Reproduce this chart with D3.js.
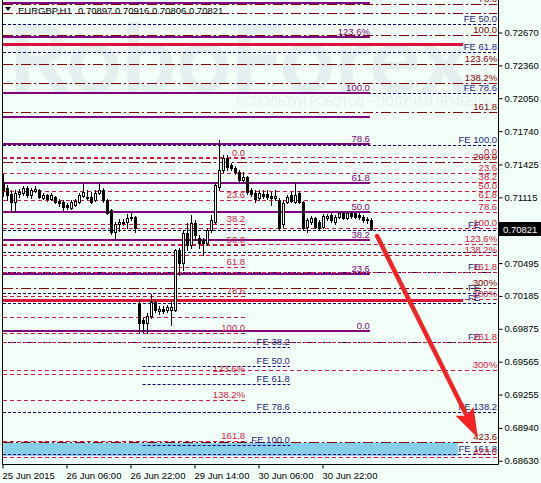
<!DOCTYPE html>
<html><head><meta charset="utf-8">
<script src="https://cdn.jsdelivr.net/npm/d3@7"></script>
<style>
html,body{margin:0;padding:0;background:#F2FFF8;}
svg{display:block;font-family:"Liberation Sans",Arial,sans-serif;}
</style></head><body>
<svg id="chart" width="541" height="483"></svg>
<script>
// ---------------- DATA ----------------
const titleSymbol = "EURGBP,H1";
const titleQuotes = "0.70897 0.70916 0.70806 0.70821";
const watermarkText = "RoboForex";
const watermarkSub = "ИСПОЛЬЗУЙ РОБОТОВ – ПОЛУЧАЙ ПРИБЫЛЬ";

const candleOpen = [.71260,.71203,.71147,.71071,.71147,.71156,.71203,.71137,.71175,.71184,
.71109,.71137,.71099,.71118,.71081,.71071,.71043,.71014,.71043,.71071,
.71128,.71118,.71118,.71090,.71156,.71184,.71090,.70996,.70788,.70863,
.70882,.70882,.70930,.70930,.70118,.69957,.69929,.69995,.70127,.70042,
.70061,.70052,.70052,.70052,.70618,.70495,.70778,.70665,.70873,.70731,
.70712,.70684,.70807,.70882,.71213,.71373,.71486,.71420,.71392,.71354,
.71279,.71307,.71184,.71156,.71109,.71147,.71147,.71128,.71109,.71090,
.70863,.71071,.71137,.71071,.71156,.71071,.70835,.70882,.70920,.70882,
.70835,.70920,.70948,.70882,.70930,.70967,.70920,.70967,.70967,.70948,
.70930,.70911,.70897];
const candleHigh = [.71335,.71232,.71184,.71184,.71194,.71222,.71222,.71203,.71222,.71194,
.71156,.71147,.71156,.71128,.71099,.71090,.71062,.71090,.71099,.71156,
.71250,.71184,.71166,.71184,.71250,.71203,.71099,.71005,.70882,.70911,
.70911,.70958,.70967,.70939,.70146,.69976,.70024,.70203,.70146,.70090,
.70090,.70099,.70146,.70628,.70637,.70807,.70873,.70948,.70901,.70759,
.70731,.70826,.70948,.71250,.71656,.71515,.71515,.71439,.71411,.71373,
.71354,.71316,.71203,.71184,.71184,.71184,.71184,.71166,.71184,.71109,
.71090,.71137,.71166,.71260,.71175,.71081,.70920,.70939,.70930,.70901,
.70958,.70958,.70967,.70948,.70977,.70977,.70977,.70977,.70977,.70967,
.70948,.70930,.70916];
const candleLow = [.71128,.71090,.70996,.70977,.71118,.71137,.71118,.71109,.71166,.71109,
.71099,.71081,.71090,.71062,.71033,.70996,.71005,.71005,.71033,.71062,
.71118,.71099,.71062,.71081,.71147,.71071,.70958,.70769,.70731,.70797,
.70854,.70826,.70901,.70788,.69844,.69844,.69835,.69976,.70033,.70014,
.70024,.70033,.69910,.70042,.70382,.70429,.70618,.70637,.70712,.70637,
.70571,.70665,.70788,.70873,.71184,.71354,.71373,.71373,.71335,.71260,
.71260,.71147,.71128,.71071,.71090,.71109,.71099,.71043,.71090,.70807,
.70835,.71062,.71071,.71062,.71062,.70807,.70788,.70863,.70826,.70807,
.70826,.70901,.70882,.70863,.70920,.70911,.70911,.70920,.70920,.70911,
.70882,.70873,.70806];
const candleClose = [.71184,.71137,.71071,.71156,.71166,.71203,.71137,.71184,.71194,.71118,
.71137,.71099,.71137,.71071,.71062,.71024,.71024,.71071,.71081,.71137,
.71166,.71109,.71071,.71156,.71184,.71090,.70967,.70788,.70863,.70882,
.70873,.70920,.70920,.70826,.69929,.69929,.69995,.70127,.70052,.70061,
.70042,.70080,.70080,.70618,.70495,.70778,.70665,.70873,.70759,.70684,
.70684,.70807,.70901,.71232,.71373,.71486,.71401,.71392,.71354,.71279,
.71307,.71166,.71147,.71099,.71156,.71128,.71118,.71109,.71128,.70826,
.71062,.71118,.71081,.71137,.71071,.70826,.70901,.70920,.70835,.70826,
.70939,.70939,.70901,.70930,.70967,.70920,.70967,.70939,.70930,.70930,
.70901,.70897,.70821];

const priceTicks = [0.72670,0.72360,0.72050,0.71740,0.71425,0.71115,0.70495,0.70185,0.69875,0.69565,0.69255,0.68940,0.68630];
const currentPrice = 0.70821;
const timeTickBars = [0,16,32,48,64,80];
const timeTickLabels = ["25 Jun 2015","26 Jun 06:00","26 Jun 22:00","29 Jun 14:00","30 Jun 06:00","30 Jun 22:00"];

// Fibonacci / object levels (prices) with labels; spans in bar index units
const purpleLevels = [0.72948,0.72628,0.72099,0.71873,0.71618,0.71250,0.70977,0.70712,0.70392,0.69854];
const purpleLabels = ["","123.6%","100.0","","78.6","61.8","50.0","38.2","23.6","0.0"];
const purpleSpan = [0, 91.6];

const crimsonRightLevels = [0.71496,0.71345,0.71260,0.71175,0.71090,0.70977,0.70826,0.70675,0.70571,0.70411,0.70156,0.69751,0.69486,0.68666];
const crimsonRightLabels = ["0.0","23.6","38.2","50.0","61.8","78.6","100.0","123.6%","138.2%","161.8","200%","261.8","300%","423.6"];
const crimsonRightSpan = [0, 123.4];

const crimsonLeftLevels = [0.71486,0.71090,0.70863,0.70665,0.70458,0.70184,0.69986,0.69835,0.69449,0.69203,0.68817];
const crimsonLeftLabels = ["0.0","23.6","38.2","50.0","61.8","78.6","","100.0","123.6%","138.2%","161.8"];
const crimsonLeftSpan = [0, 60.4];

const darkRedLevels = [0.72939,0.72854,0.72646,0.72373,0.72194,0.71920,0.71449,0.70260,0.68807];
const darkRedLabels = ["78.6","","100.0","123.6%","138.2%","161.8","200.0","300%","423.6"];
const darkRedSpan = [0, 123.4];

const navyRightLevels = [0.72750,0.72486,0.72099,0.71609,0.70807,0.70600,0.70411,0.70212,0.70118,0.69751,0.69090,0.68694];
const navyRightLabels = ["FE 50.0","FE 61.8","FE 78.6","FE 100.0","FE","","FE","FE","FE","FE","FE 138.2","FE 161.8"];
const navyRightSpan = [0, 123.4];

const navyMidLevels = [0.69703,0.69524,0.69354,0.69090,0.68779];
const navyMidLabels = ["FE 38.2","FE 50.0","FE 61.8","FE 78.6","FE 100.0"];
const navyMidSpan = [34.9, 71.6];

const supportLevels = [0.72562, 0.70146];
const supportSpan = [0, 114.9];

const targetZone = [0.68798, 0.68675];
const targetZoneSpan = [0, 113.6];

const arrowFrom = [93.4, 0.70750];
const arrowTo = [118.6, 0.68845];

// ---------------- DRAW ----------------
const W = 541, H = 483;
const plotRight = 498.5, plotBottom = 464.5;
const svg = d3.select("#chart");
const x = d3.scaleLinear().domain([0, 123.75]).range([3.5, plotRight]);
const y = d3.scaleLinear().domain([0.72670, 0.68630]).range([32.5, 460.8]);
const fs = 9.5, fsAxis = 9.5;

svg.append("rect").attr("width", W).attr("height", H).attr("fill", "#F2FFF8");

svg.append("defs").append("clipPath").attr("id","plotclip")
  .append("rect").attr("x",0).attr("y",0).attr("width",plotRight).attr("height",plotBottom);

const plot = svg.append("g").attr("clip-path","url(#plotclip)");

// watermark
plot.append("text").text(watermarkText)
  .attr("x", 8).attr("y", 92)
  .attr("font-family","Lato, 'Open Sans', sans-serif").attr("font-weight","bold")
  .attr("font-size", 94).attr("textLength", 462).attr("lengthAdjust","spacingAndGlyphs")
  .attr("fill","#E4EFEF");
plot.append("text").text(watermarkSub)
  .attr("x", 236).attr("y", 106)
  .attr("font-family","Lato, 'Open Sans', sans-serif")
  .attr("font-size", 12.5).attr("textLength", 256).attr("lengthAdjust","spacingAndGlyphs")
  .attr("fill","#E4EFEF");

// target zone
plot.append("rect")
  .attr("x", x(targetZoneSpan[0])).attr("y", y(targetZone[0]))
  .attr("width", x(targetZoneSpan[1]) - x(targetZoneSpan[0]))
  .attr("height", y(targetZone[1]) - y(targetZone[0]))
  .attr("fill", "#87CEEB");

const crisp = v => Math.round(v) + 0.5;

function drawLines(levels, span, color, width, dash) {
  plot.append("g").selectAll("line").data(levels).join("line")
    .attr("x1", x(span[0]) - 0.5).attr("x2", x(span[1]))
    .attr("y1", d => width % 2 ? crisp(y(d)) : Math.round(y(d)))
    .attr("y2", d => width % 2 ? crisp(y(d)) : Math.round(y(d)))
    .attr("stroke", color).attr("stroke-width", width)
    .attr("stroke-dasharray", dash || null);
}
function drawLabels(levels, labels, span, color) {
  const g = plot.append("g");
  levels.forEach((lv, i) => {
    const t = labels[i];
    if (!t) return;
    const short = (t === "FE");
    g.append("text").text(t)
      .attr("x", x(span[1]) - (short ? 17 : 0))
      .attr("y", Math.round(y(lv)) - 2)
      .attr("text-anchor", "end")
      .attr("font-size", fs).attr("fill", color);
  });
}

const cNavy = "#000080", cNavyTxt = "#24188A";
const cCrimson = "#DC143C", cDark = "#8B0000", cPurple = "#800080";

drawLines(navyRightLevels, navyRightSpan, cNavy, 1, "3,2");
drawLines(navyMidLevels, navyMidSpan, cNavy, 1, "3,2");
drawLines(darkRedLevels, darkRedSpan, cDark, 1, "10,3,2,3");
drawLines(crimsonLeftLevels, crimsonLeftSpan, cCrimson, 1, "4,3");
drawLines(crimsonRightLevels, crimsonRightSpan, cCrimson, 1, "4,3");
drawLines(purpleLevels, purpleSpan, cPurple, 2, null);
drawLines(supportLevels, supportSpan, cCrimson, 3, null);

drawLabels(navyRightLevels, navyRightLabels, navyRightSpan, cNavyTxt);
drawLabels(navyMidLevels, navyMidLabels, navyMidSpan, cNavyTxt);
drawLabels(darkRedLevels, darkRedLabels, darkRedSpan, cDark);
drawLabels(crimsonLeftLevels, crimsonLeftLabels, crimsonLeftSpan, cCrimson);
drawLabels(crimsonRightLevels, crimsonRightLabels, crimsonRightSpan, cCrimson);
drawLabels(purpleLevels, purpleLabels, purpleSpan, cPurple);

// candles
const candles = candleOpen.map((o, i) => ({i, o, h: candleHigh[i], l: candleLow[i], c: candleClose[i]}));
const cg = plot.append("g");
cg.selectAll("line").data(candles).join("line")
  .attr("x1", d => x(d.i)).attr("x2", d => x(d.i))
  .attr("y1", d => Math.round(y(d.h))).attr("y2", d => Math.round(y(d.l)) + 1)
  .attr("stroke", "#000").attr("stroke-width", 1);
cg.selectAll("rect").data(candles).join("rect")
  .each(function(d) {
    const top = Math.round(y(Math.max(d.o, d.c)));
    const bot = Math.round(y(Math.min(d.o, d.c)));
    const sel = d3.select(this);
    if (d.c >= d.o) {
      sel.attr("x", x(d.i) - 1).attr("y", top + 0.5)
        .attr("width", 2).attr("height", Math.max(bot - top, 1))
        .attr("fill", "#fff").attr("stroke", "#000").attr("stroke-width", 1);
    } else {
      sel.attr("x", x(d.i) - 1.5).attr("y", top)
        .attr("width", 3).attr("height", Math.max(bot - top + 1, 1))
        .attr("fill", "#000");
    }
  });

// arrow
const ax1 = x(arrowFrom[0]), ay1 = y(arrowFrom[1]);
const ax2 = x(arrowTo[0]), ay2 = y(arrowTo[1]);
const len = Math.hypot(ax2 - ax1, ay2 - ay1);
const ux = (ax2 - ax1) / len, uy = (ay2 - ay1) / len;
const headL = 30, headW = 10;
const bx = ax2 - ux * headL, by = ay2 - uy * headL;
plot.append("line").attr("x1", ax1).attr("y1", ay1).attr("x2", bx + ux * 4).attr("y2", by + uy * 4)
  .attr("stroke", "#F42424").attr("stroke-width", 4.5).attr("stroke-linecap","round");
plot.append("path")
  .attr("d", `M${ax2},${ay2} L${bx - uy * headW},${by + ux * headW} L${bx + ux*5},${by + uy*5} L${bx + uy * headW},${by - ux * headW} Z`)
  .attr("fill", "#F42424");

// axes
svg.append("line").attr("x1", 2.5).attr("x2", 2.5).attr("y1", 0).attr("y2", plotBottom)
  .attr("stroke", "#000");
svg.append("line").attr("x1", plotRight).attr("x2", plotRight).attr("y1", 0).attr("y2", plotBottom)
  .attr("stroke", "#000");
svg.append("line").attr("x1", 2.5).attr("x2", plotRight).attr("y1", plotBottom).attr("y2", plotBottom)
  .attr("stroke", "#000");

const yAxis = d3.axisRight(y).tickValues(priceTicks).tickFormat(d3.format(".5f")).tickSize(4).tickPadding(2);
const yg = svg.append("g").attr("transform", `translate(${plotRight},0)`).call(yAxis);
yg.select(".domain").remove();
yg.selectAll("text").attr("font-size", fsAxis).attr("font-family", "'Liberation Sans',Arial,sans-serif").attr("fill","#000");

const xAxis = d3.axisBottom(x).tickValues(timeTickBars)
  .tickFormat((d, i) => timeTickLabels[i]).tickSize(4).tickPadding(4);
const xg = svg.append("g").attr("transform", `translate(0,${plotBottom})`).call(xAxis);
xg.select(".domain").remove();
xg.selectAll("text").attr("font-size", fsAxis).attr("text-anchor", "start").attr("dx", -1.5)
  .attr("font-family", "'Liberation Sans',Arial,sans-serif").attr("fill","#000");
xg.selectAll(".tick line").attr("transform","translate(-1,0)");

// current price tag
const cpy = y(currentPrice);
svg.append("rect").attr("x", plotRight + 0.5).attr("y", Math.round(cpy) - 7)
  .attr("width", W - plotRight).attr("height", 14).attr("fill", "#000");
svg.append("text").text(d3.format(".5f")(currentPrice))
  .attr("x", 503).attr("y", Math.round(cpy) + 3.5)
  .attr("font-size", fsAxis).attr("fill", "#fff");

// title
svg.append("path").attr("d", "M5,7 L11,7 L8,11 Z").attr("fill", "#000");
svg.append("text").text(titleSymbol).attr("x", 18).attr("y", 14)
  .attr("font-size", fsAxis).attr("fill", "#000");
svg.append("text").text(titleQuotes).attr("x", 78).attr("y", 14)
  .attr("font-size", fsAxis).attr("fill", "#000");
</script>
</body></html>
